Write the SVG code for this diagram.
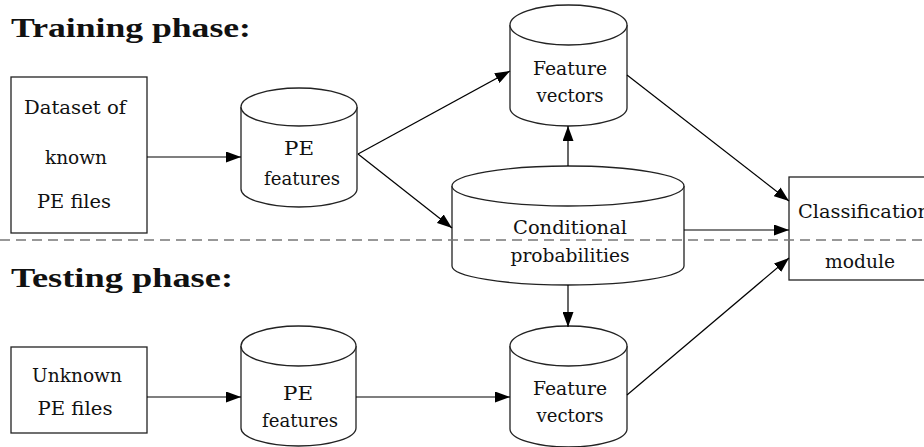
<svg xmlns="http://www.w3.org/2000/svg" width="924" height="447" viewBox="0 0 924 447">
<defs>
<marker id="ah" markerUnits="userSpaceOnUse" markerWidth="15" markerHeight="11" refX="15" refY="5.5" orient="auto">
<path d="M0,0 L15,5.5 L0,11 z" fill="#000"/>
</marker>
<style>
.t{font-family:'DejaVu Serif','Liberation Serif',serif;font-size:19px;fill:#111;text-anchor:middle}
.h{font-family:'Liberation Serif','DejaVu Serif',serif;font-size:27px;font-weight:bold;fill:#111}
.n{fill:#fff;stroke:#222;stroke-width:1.3}
.c{stroke:#000;stroke-width:1.2;fill:none;marker-end:url(#ah)}
.d{stroke:#777;stroke-width:1.3;stroke-dasharray:10 6;fill:none}
</style>
</defs>
<rect width="924" height="447" fill="#fff"/>
<text class="h" x="11" y="37" textLength="240" lengthAdjust="spacingAndGlyphs">Training phase:</text>
<text class="h" x="11" y="287" textLength="222" lengthAdjust="spacingAndGlyphs">Testing phase:</text>

<g id="dataset">
<rect class="n" x="11" y="77" width="136" height="156"/>
<text class="t" x="75" y="114" textLength="102" lengthAdjust="spacingAndGlyphs">Dataset of</text>
<text class="t" x="76" y="164" textLength="62" lengthAdjust="spacingAndGlyphs">known</text>
<text class="t" x="74" y="208" textLength="74" lengthAdjust="spacingAndGlyphs">PE files</text>
</g>
<g id="pe-train">
<path class="n" d="M241,107 V189 A58,18 0 0 0 357,189 V107"/>
<ellipse class="n" cx="299" cy="107" rx="58" ry="19"/>
<text class="t" x="299" y="155" textLength="30" lengthAdjust="spacingAndGlyphs">PE</text>
<text class="t" x="302" y="185" textLength="76" lengthAdjust="spacingAndGlyphs">features</text>
</g>
<g id="fv-train">
<path class="n" d="M510,25 V108 A58.5,18 0 0 0 627,108 V25"/>
<ellipse class="n" cx="568.5" cy="25" rx="58.5" ry="20"/>
<text class="t" x="570" y="75" textLength="74" lengthAdjust="spacingAndGlyphs">Feature</text>
<text class="t" x="570" y="102" textLength="67" lengthAdjust="spacingAndGlyphs">vectors</text>
</g>
<g id="cond">
<path class="n" d="M452,186 V266 A116,19 0 0 0 684,266 V186"/>
<ellipse class="n" cx="568" cy="186" rx="116" ry="20"/>
<text class="t" x="570" y="234" textLength="114" lengthAdjust="spacingAndGlyphs">Conditional</text>
<text class="t" x="570" y="262" textLength="119" lengthAdjust="spacingAndGlyphs">probabilities</text>
</g>
<g id="classifier">
<rect class="n" x="789" y="177" width="145" height="103"/>
<text class="t" x="798" y="218" style="text-anchor:start" textLength="132" lengthAdjust="spacingAndGlyphs">Classification</text>
<text class="t" x="860" y="268" textLength="70" lengthAdjust="spacingAndGlyphs">module</text>
</g>
<g id="unknown">
<rect class="n" x="11" y="347" width="136" height="86"/>
<text class="t" x="77" y="382" textLength="90" lengthAdjust="spacingAndGlyphs">Unknown</text>
<text class="t" x="75" y="415" textLength="75" lengthAdjust="spacingAndGlyphs">PE files</text>
</g>
<g id="pe-test">
<path class="n" d="M241,346 V428 A57.5,18 0 0 0 356,428 V346"/>
<ellipse class="n" cx="298.5" cy="346" rx="57.5" ry="20"/>
<text class="t" x="298" y="400" textLength="30" lengthAdjust="spacingAndGlyphs">PE</text>
<text class="t" x="300" y="427" textLength="76" lengthAdjust="spacingAndGlyphs">features</text>
</g>
<g id="fv-test">
<path class="n" d="M510,346 V429 A58.5,18 0 0 0 627,429 V346"/>
<ellipse class="n" cx="568.5" cy="346" rx="58.5" ry="20"/>
<text class="t" x="570" y="395" textLength="74" lengthAdjust="spacingAndGlyphs">Feature</text>
<text class="t" x="570" y="422" textLength="67" lengthAdjust="spacingAndGlyphs">vectors</text>
</g>

<g id="connectors">
<line class="c" x1="147" y1="157" x2="241" y2="157"/>
<line class="c" x1="358" y1="154" x2="510" y2="71"/>
<line class="c" x1="358" y1="154" x2="452" y2="228"/>
<line class="c" x1="568" y1="166" x2="568" y2="126"/>
<line class="c" x1="627" y1="75" x2="789" y2="201"/>
<line class="c" x1="684" y1="230" x2="789" y2="230"/>
<line class="c" x1="147" y1="397" x2="241" y2="397"/>
<line class="c" x1="356" y1="397" x2="510" y2="397"/>
<line class="c" x1="568" y1="285" x2="568" y2="327"/>
<line class="c" x1="627" y1="395" x2="789" y2="258"/>
</g>
<line id="divider" class="d" x1="0" y1="240" x2="924" y2="240"/>
</svg>
